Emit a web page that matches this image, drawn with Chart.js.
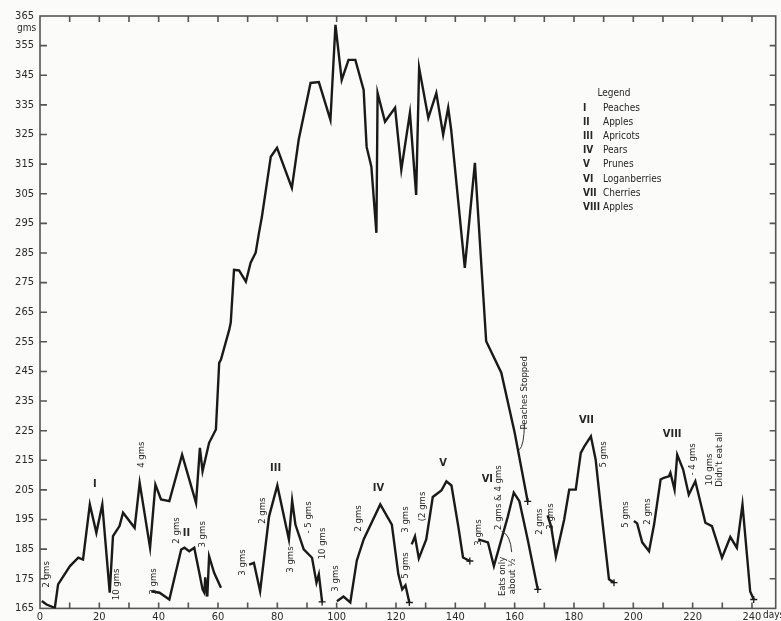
<!DOCTYPE html>
<html>
<head>
<meta charset="utf-8">
<title>Weight curve</title>
<script src="https://cdn.jsdelivr.net/npm/chart.js@4.4.1/dist/chart.umd.min.js"></script>
<style>
  html, body { margin: 0; padding: 0; background: #fbfbfa; }
  canvas { display: block; }
</style>
</head>
<body>
<canvas id="weightChart" width="781" height="621"></canvas>
<script>
// Series values (days, grams)
const peachDays = [0.6, 2.2, 5.0, 6.1, 10.1, 12.9, 14.5, 16.8, 19.0, 21.0, 23.5, 24.6, 26.8, 28.0, 31.9, 33.6, 37.1, 38.9, 40.8, 43.6, 47.9, 52.6, 53.9, 54.8, 57.0, 59.3, 60.4, 61.0, 63.8, 64.3, 65.4, 67.1, 69.4, 71.0, 72.7, 73.8, 74.8, 77.8, 79.9, 84.9, 87.2, 91.2, 94.0, 97.9, 99.6, 101.7, 104.0, 106.3, 109.1, 110.1, 111.7, 113.4, 113.8, 116.3, 119.7, 121.8, 124.7, 126.8, 127.8, 130.9, 133.6, 135.9, 137.6, 138.6, 143.2, 146.6, 150.4, 155.5, 160.0, 164.4];
const peachGms = [167.5, 166.3, 165.2, 173.1, 179.3, 182.1, 181.5, 200.1, 190.5, 200.1, 170.3, 189.4, 192.8, 197.3, 192.2, 207.4, 185.5, 206.8, 201.8, 201.2, 216.9, 200.6, 219.2, 211.3, 220.9, 225.4, 247.9, 249.0, 259.1, 261.5, 279.3, 279.1, 275.3, 281.7, 285.1, 291.7, 297.2, 317.5, 320.5, 307.0, 323.2, 342.4, 342.7, 329.9, 362.0, 343.4, 350.2, 350.2, 340.0, 320.8, 314.1, 291.8, 339.0, 329.3, 334.0, 313.1, 332.3, 304.6, 347.5, 330.6, 339.0, 324.9, 334.0, 326.6, 280.0, 315.4, 255.2, 244.6, 224.4, 201.1];

const appleDays = [37.5, 40.3, 43.6, 47.6, 48.7, 50.3, 52.0, 53.7, 54.8, 55.4, 55.7, 56.4, 57.0, 58.7, 61.0];
const appleGms = [170.8, 170.3, 168.0, 184.9, 185.5, 184.3, 185.5, 177.0, 171.4, 170.3, 175.5, 169.0, 182.6, 177.0, 172.0];

const apricotDays = [70.5, 72.1, 74.2, 77.2, 80.0, 83.9, 85.0, 86.1, 88.9, 91.7, 93.2, 94.0, 95.1];
const apricotGms = [179.8, 180.4, 170.8, 196.0, 206.5, 188.3, 201.4, 193.3, 184.9, 182.1, 173.7, 176.5, 167.2];

const pearDays = [100.1, 102.3, 104.6, 106.8, 109.1, 114.7, 118.6, 120.8, 122.1, 123.2, 124.5];
const pearGms = [167.4, 169.0, 167.0, 181.2, 188.3, 200.1, 193.3, 176.5, 171.4, 172.8, 167.0];

const pruneDays = [125.3, 126.4, 127.7, 130.2, 132.4, 135.3, 137.0, 138.7, 141.0, 142.6, 144.9];
const pruneGms = [186.6, 189.3, 181.9, 188.3, 202.6, 204.8, 207.9, 206.5, 192.7, 182.2, 181.0];

const loganDays = [147.7, 151.0, 153.0, 157.7, 159.7, 161.6, 164.4, 167.8];
const loganGms = [188.3, 187.3, 179.3, 196.0, 204.1, 201.2, 188.3, 171.4];

const cherryDays = [171.1, 172.3, 173.9, 176.7, 178.4, 180.6, 182.3, 183.5, 185.7, 187.3, 189.0, 191.8, 193.5];
const cherryGms = [196.4, 192.7, 182.5, 195.0, 205.1, 205.1, 217.5, 219.7, 223.1, 215.3, 199.5, 174.8, 173.7];

const apple2Days = [200.2, 201.3, 203.0, 205.3, 207.0, 209.2, 210.3, 212.0, 212.5, 213.9, 214.8, 216.8, 218.7, 220.9, 224.3, 226.5, 229.9, 232.7, 234.9, 236.8, 238.3, 239.4, 240.6];
const apple2Gms = [194.5, 193.7, 187.3, 184.3, 193.3, 208.5, 209.1, 209.6, 210.8, 205.1, 216.9, 211.9, 203.4, 207.9, 193.9, 192.8, 182.1, 189.1, 185.5, 200.1, 183.2, 170.7, 168.0];

// Legend entries
const numerals = ['I', 'II', 'III', 'IV', 'V', 'VI', 'VII', 'VIII'];
const fruits = ['Peaches', 'Apples', 'Apricots', 'Pears', 'Prunes', 'Loganberries', 'Cherries', 'Apples'];

// Segment labels: [day, gms, text]
const segmentLabels = [
    [18.5, 206.8, 'I'], [49.4, 190.5, 'II'], [79.4, 212.5, 'III'], [114.1, 205.7, 'IV'],
    [135.9, 214.1, 'V'], [150.8, 208.5, 'VI'], [184.2, 228.7, 'VII'], [213.1, 223.7, 'VIII']
];

// Upright (rotated) notes: [day, gms, text]
const notes = [
    [2.2, 176.5, '2 gms'], [25.7, 173.1, '10 gms'], [34.1, 216.9, '4 gms'], [38.3, 174.1, '3 gms'],
    [45.9, 191.3, '2 gms'], [54.8, 190.0, '3 gms'], [68.2, 180.5, '3 gms'], [74.9, 198.0, '2 gms'],
    [84.5, 181.5, '3 gms'], [90.6, 195.7, '- 5 gms'], [95.1, 186.9, '10 gms'], [99.6, 175.1, '3 gms'],
    [107.4, 195.4, '2 gms'], [123.1, 179.5, '5 gms'], [123.1, 195.0, '3 gms'], [129.0, 199.4, '(2 gms'],
    [147.7, 190.6, '3 gms'], [154.4, 202.4, '2 gms & 4 gms'], [156.0, 175.8, 'Eats only'],
    [159.2, 175.8, 'about \u00bd'], [168.3, 194.3, '2 gms'], [172.0, 196.0, '3 gms'], [190.0, 217.0, '5 gms'],
    [197.4, 196.7, '5 gms'], [204.7, 197.7, '2 gms'], [219.8, 215.3, '- 4 gms'], [225.8, 211.9, '10 gms'],
    [228.9, 215.3, "Didn't eat all"], [163.4, 237.8, 'Peaches Stopped']
];

const yTicks = { min: 165, max: 365, step: 10 };
const xTicks = { min: 0, max: 248, step: 10, labelEvery: 20 };

const ink = '#1a1a1a';
const textFont = '"DejaVu Sans Condensed", "DejaVu Sans", sans-serif';

function points(days, gms) {
    return days.map((d, i) => ({ x: d, y: gms[i] }));
}

function segment(label, days, gms, endMark) {
    const last = days.length - 1;
    return {
        label: label,
        data: points(days, gms),
        borderColor: ink,
        borderWidth: 2.4,
        tension: 0,
        fill: false,
        pointStyle: 'cross',
        pointBorderColor: ink,
        pointBorderWidth: 1.3,
        pointRadius: ctx => (endMark && ctx.dataIndex === last ? 3.5 : 0)
    };
}

// Frame, inward ticks, notes and hand-drawn legend
const paperPlugin = {
    id: 'paper',
    beforeDraw(chart) {
        const ctx = chart.ctx;
        ctx.save();
        ctx.fillStyle = '#fbfbfa';
        ctx.fillRect(0, 0, chart.width, chart.height);
        ctx.restore();
    },
    beforeDatasetsDraw(chart) {
        const { ctx, chartArea: a, scales: { x, y } } = chart;
        ctx.save();
        ctx.strokeStyle = '#555';
        ctx.lineWidth = 1.6;
        ctx.strokeRect(a.left, a.top, a.right - a.left, a.bottom - a.top);

        ctx.lineWidth = 1.6;
        ctx.beginPath();
        x.ticks.forEach(t => {
            if (t.value <= xTicks.min) return;
            const px = x.getPixelForValue(t.value);
            ctx.moveTo(px, a.bottom); ctx.lineTo(px, a.bottom - 6);
            ctx.moveTo(px, a.top); ctx.lineTo(px, a.top + 6);
        });
        y.ticks.forEach(t => {
            if (t.value <= yTicks.min || t.value >= yTicks.max) return;
            const py = y.getPixelForValue(t.value);
            ctx.moveTo(a.left, py); ctx.lineTo(a.left + 7, py);
            ctx.moveTo(a.right, py); ctx.lineTo(a.right - 6, py);
        });
        ctx.stroke();
        ctx.restore();
    },
    afterDatasetsDraw(chart) {
        const { ctx, chartArea: a, scales: { x, y } } = chart;
        ctx.save();
        ctx.fillStyle = '#262626';

        // axis units
        ctx.font = '10px ' + textFont;
        ctx.textAlign = 'left';
        ctx.textBaseline = 'middle';
        ctx.fillText('gms', 17, y.getPixelForValue(yTicks.max) + 12);
        ctx.fillText('days', x.getPixelForValue(240) + 11, a.bottom + 7);

        // roman numerals over each segment
        ctx.font = 'bold 11px ' + textFont;
        ctx.textAlign = 'center';
        segmentLabels.forEach(s => {
            ctx.fillText(s[2], x.getPixelForValue(s[0]), y.getPixelForValue(s[1]));
        });

        // rotated notes
        ctx.font = '9.5px ' + textFont;
        notes.forEach(n => {
            ctx.save();
            ctx.translate(x.getPixelForValue(n[0]), y.getPixelForValue(n[1]));
            ctx.rotate(-Math.PI / 2);
            ctx.fillText(n[2], 0, 0);
            ctx.restore();
        });

        // pointers
        ctx.strokeStyle = '#333';
        ctx.lineWidth = 1;
        ctx.beginPath();
        ctx.moveTo(x.getPixelForValue(163.3), y.getPixelForValue(227.5));
        ctx.quadraticCurveTo(x.getPixelForValue(163.2), y.getPixelForValue(220),
            x.getPixelForValue(161.6), y.getPixelForValue(218.6));
        ctx.moveTo(x.getPixelForValue(155.6), y.getPixelForValue(191));
        ctx.quadraticCurveTo(x.getPixelForValue(158.6), y.getPixelForValue(190),
            x.getPixelForValue(159.0), y.getPixelForValue(184));
        ctx.stroke();

        // legend block
        const lx = 583, ly = 93;
        ctx.font = '10px ' + textFont;
        ctx.textAlign = 'center';
        ctx.fillText('Legend', lx + 31, ly);
        numerals.forEach((num, i) => {
            const rowY = ly + 15 + i * 14.2;
            ctx.font = 'bold 10px ' + textFont;
            ctx.textAlign = 'left';
            ctx.fillText(num, lx, rowY);
            ctx.font = '10px ' + textFont;
            ctx.fillText(fruits[i], lx + 20, rowY);
        });
        ctx.restore();
    }
};

new Chart(document.getElementById('weightChart'), {
    type: 'line',
    data: {
        datasets: [
            segment('I Peaches', peachDays, peachGms, true),
            segment('II Apples', appleDays, appleGms, false),
            segment('III Apricots', apricotDays, apricotGms, true),
            segment('IV Pears', pearDays, pearGms, true),
            segment('V Prunes', pruneDays, pruneGms, true),
            segment('VI Loganberries', loganDays, loganGms, true),
            segment('VII Cherries', cherryDays, cherryGms, true),
            segment('VIII Apples', apple2Days, apple2Gms, true)
        ]
    },
    options: {
        responsive: false,
        animation: false,
        devicePixelRatio: 1,
        layout: { padding: { top: 16, right: 3, left: 0, bottom: 0 } },
        plugins: {
            legend: { display: false },
            tooltip: { enabled: false }
        },
        scales: {
            x: {
                type: 'linear',
                min: xTicks.min,
                max: xTicks.max,
                grid: { display: false, drawTicks: false },
                border: { display: false },
                afterFit: scale => { scale.height = 12; },
                ticks: {
                    stepSize: xTicks.step,
                    includeBounds: false,
                    autoSkip: false,
                    maxRotation: 0,
                    padding: 2,
                    color: '#2a2a2a',
                    font: { family: textFont, size: 11 },
                    callback: v => (v % xTicks.labelEvery === 0 ? String(v) : '')
                }
            },
            y: {
                min: yTicks.min,
                max: yTicks.max,
                grid: { display: false, drawTicks: false },
                border: { display: false },
                afterFit: scale => { scale.width = 40; },
                ticks: {
                    stepSize: yTicks.step,
                    autoSkip: false,
                    padding: 6,
                    color: '#2a2a2a',
                    font: { family: textFont, size: 11 }
                }
            }
        }
    },
    plugins: [paperPlugin]
});
</script>
</body>
</html>
